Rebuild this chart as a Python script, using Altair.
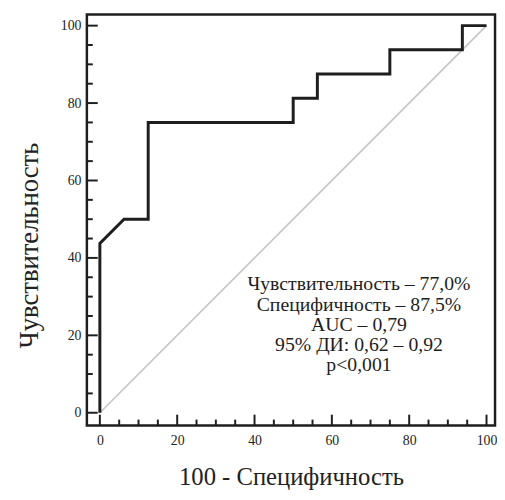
import altair as alt
import pandas as pd

# ROC curve points (100 - specificity, sensitivity)
roc_x = [0, 0, 6.25, 12.5, 12.5, 50, 50, 56.25, 56.25, 75, 75, 93.75, 93.75, 100]
roc_y = [0, 43.75, 50, 50, 75, 75, 81.25, 81.25, 87.5, 87.5, 93.75, 93.75, 100, 100]
diag = [0, 100]
major_ticks = [0, 20, 40, 60, 80, 100]
minor_ticks = [5, 10, 15, 25, 30, 35, 45, 50, 55, 65, 70, 75, 85, 90, 95]
info_lines = [
    "Чувствительность  – 77,0%",
    "Специфичность – 87,5%",
    "AUC  – 0,79",
    "95% ДИ: 0,62 – 0,92",
    "p<0,001",
]

W, H = 414, 417
FONT = "Liberation Serif"

roc = pd.DataFrame({"x": roc_x, "y": roc_y, "i": range(len(roc_x))})
dg = pd.DataFrame({"x": diag, "y": diag})
maj = pd.DataFrame({"v": major_ticks})
mnr = pd.DataFrame({"v": minor_ticks})

xs = alt.Scale(domain=[-3.36, 102.2], nice=False, zero=False)
ys = alt.Scale(domain=[-3.3, 102.9], nice=False, zero=False)

xaxis = alt.Axis(values=major_ticks, ticks=False, domain=False, grid=False,
                 labelFont=FONT, labelFontSize=14, labelColor="#222", labelPadding=8,
                 title="100 - Специфичность", titleFont=FONT, titleFontSize=25,
                 titleFontWeight="normal", titleColor="#222", titlePadding=18)
yaxis = alt.Axis(values=major_ticks, ticks=False, domain=False, grid=False,
                 labelFont=FONT, labelFontSize=14, labelColor="#222", labelPadding=6,
                 title="Чувствительность", titleFont=FONT, titleFontSize=27,
                 titleFontWeight="normal", titleColor="#222",
                 titleX=-58, titleY=234, titleBaseline="middle", titleAlign="center",
                 titleAngle=270)

diag_line = alt.Chart(dg).mark_line(color="#c4c4c4", strokeWidth=1.6).encode(
    x=alt.X("x:Q", scale=xs, axis=xaxis),
    y=alt.Y("y:Q", scale=ys, axis=yaxis),
)

roc_line = alt.Chart(roc).mark_line(color="#1e1e1e", strokeWidth=3, strokeJoin="miter").encode(
    x=alt.X("x:Q", scale=xs),
    y=alt.Y("y:Q", scale=ys),
    order="i:Q",
)

ytick_major = alt.Chart(maj).mark_rule(color="#1e1e1e", strokeWidth=2).encode(
    y=alt.Y("v:Q", scale=ys), x=alt.value(0), x2=alt.value(11))
ytick_minor = alt.Chart(mnr).mark_rule(color="#1e1e1e", strokeWidth=2).encode(
    y=alt.Y("v:Q", scale=ys), x=alt.value(0), x2=alt.value(6))
xtick_major = alt.Chart(maj).mark_rule(color="#1e1e1e", strokeWidth=2).encode(
    x=alt.X("v:Q", scale=xs), y=alt.value(H), y2=alt.value(H - 11))
xtick_minor = alt.Chart(mnr).mark_rule(color="#1e1e1e", strokeWidth=2).encode(
    x=alt.X("v:Q", scale=xs), y=alt.value(H), y2=alt.value(H - 6))

info = alt.Chart(pd.DataFrame({"t": [info_lines]})).mark_text(
    font=FONT, fontSize=20, color="#1e1e1e", align="center", baseline="middle",
    lineHeight=20.5,
).encode(text="t", x=alt.value(276), y=alt.value(274))

chart = alt.layer(diag_line, roc_line, ytick_major, ytick_minor, xtick_major,
                  xtick_minor, info).properties(
    width=W, height=H,
    padding={"left": 80, "top": 3, "right": 2, "bottom": 70},
    autosize=alt.AutoSizeParams(type="none"),
    background="white",
).configure_view(stroke="#1e1e1e", strokeWidth=2.5)

chart.save("out.html", embed_options={"renderer": "svg", "actions": False})
